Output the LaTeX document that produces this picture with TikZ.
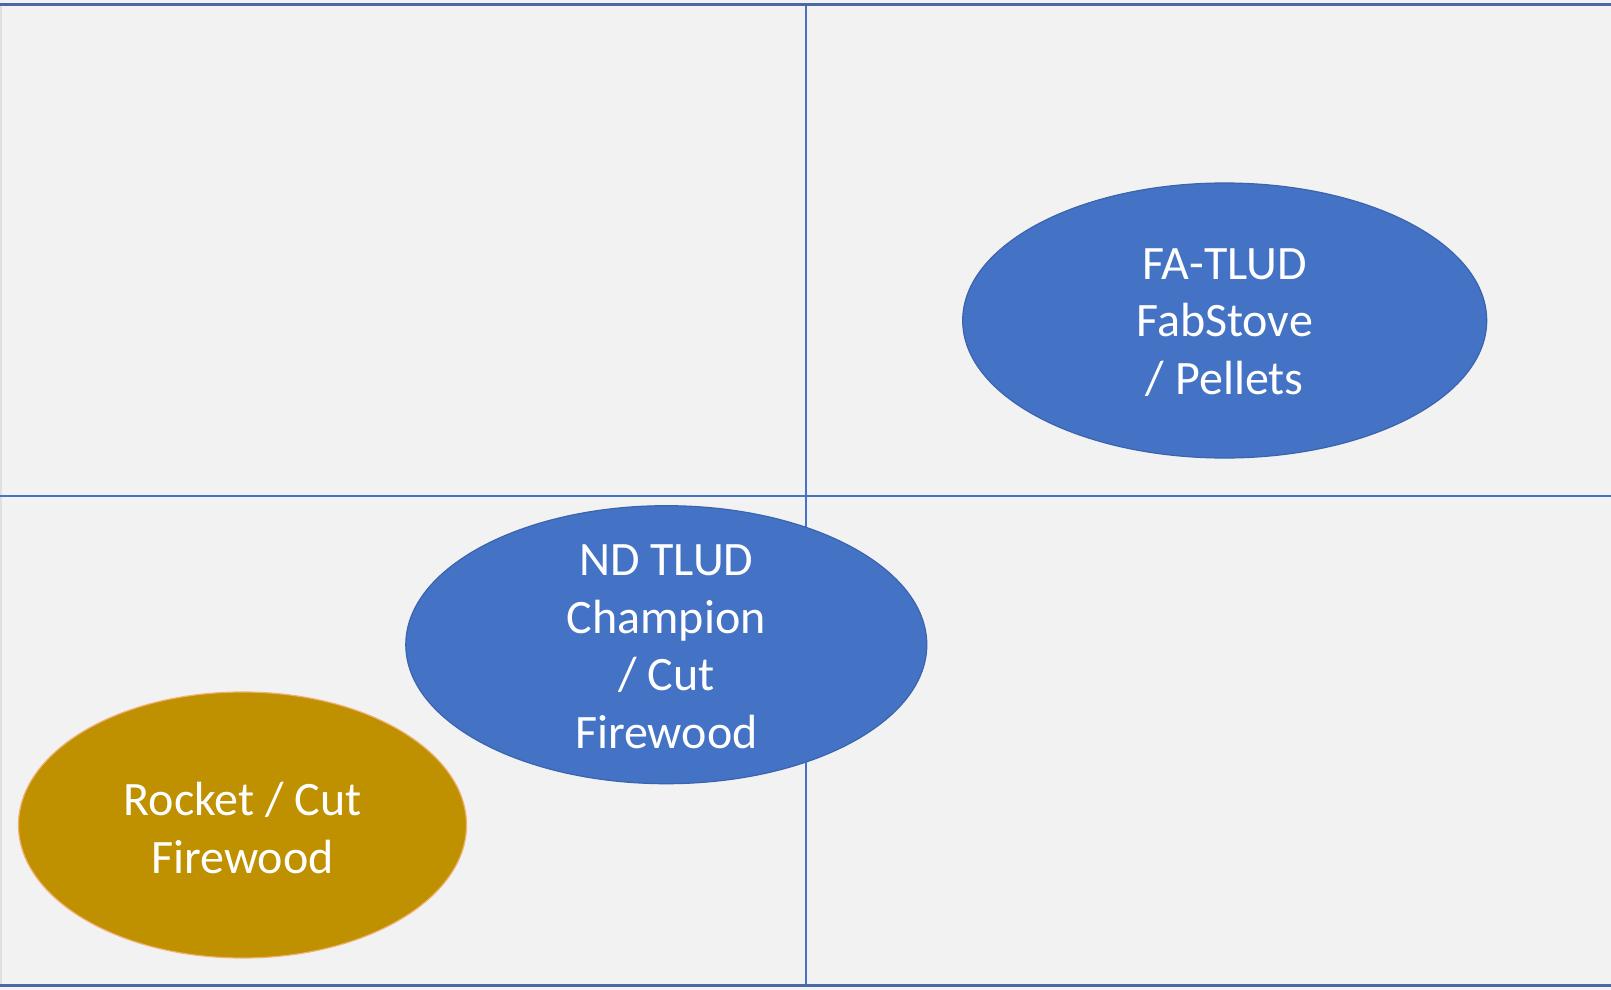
\documentclass[tikz,border=0pt]{standalone}
\usepackage{fontspec}
\setmainfont{Carlito}
\usetikzlibrary{shapes.geometric}
\definecolor{bg}{HTML}{F2F2F2}
\definecolor{divline}{HTML}{4472C4}
\definecolor{frameline}{HTML}{4A68A6}
\definecolor{blueoval}{HTML}{4472C4}
\definecolor{blueedge}{HTML}{3A64AE}
\definecolor{goldoval}{HTML}{BF9000}
\definecolor{goldedge}{HTML}{F0B070}
\tikzset{
  oval/.style={ellipse, inner sep=0pt, line width=1.2pt},
  blueov/.style={oval, fill=blueoval, draw=blueedge},
  goldov/.style={oval, fill=goldoval, draw=goldedge},
  lbl/.style={text=white, align=center, font=\fontsize{48}{57.5}\selectfont, inner sep=0pt},
  divider/.style={draw=divline, line width=2pt},
  frame/.style={draw=frameline, line width=3pt}
}
\begin{document}
\begin{tikzpicture}[x=1pt,y=-1pt]
\useasboundingbox (0,0) rectangle (1611,990);
\fill[bg] (0,0) rectangle (1611,990);
\coordinate (tl) at (0,4.5);
\coordinate (tr) at (1611,4.5);
\coordinate (bl) at (0,985.5);
\coordinate (br) at (1611,985.5);
\draw[frame] (tl) -- (tr);
\draw[frame] (bl) -- (br);
\draw[draw=black!12, line width=1.5pt] (0.75,6) -- (0.75,984);
\coordinate (vt) at (806,6);
\coordinate (vb) at (806,984);
\coordinate (hl) at (0,495.5);
\coordinate (hr) at (1611,495.5);
\draw[divider] (vt) -- (vb);
\draw[divider] (hl) -- (hr);
\node[blueov, minimum width=524pt, minimum height=275pt] (fa) at (1224.7,320.5) {};
\node[lbl] at ([yshift=-2pt]fa.center) {FA-TLUD\\FabStove\\/ Pellets};
\node[blueov, minimum width=521pt, minimum height=278pt] (nd) at (666.3,644.7) {};
\node[lbl] at ([yshift=-2pt]nd.center) {ND TLUD\\Champion\\/ Cut\\Firewood};
\node[goldov, minimum width=448pt, minimum height=266pt] (rk) at (242.5,825) {};
\node[lbl] at ([yshift=-3pt]rk.center) {Rocket / Cut\\Firewood};
\end{tikzpicture}
\end{document}
